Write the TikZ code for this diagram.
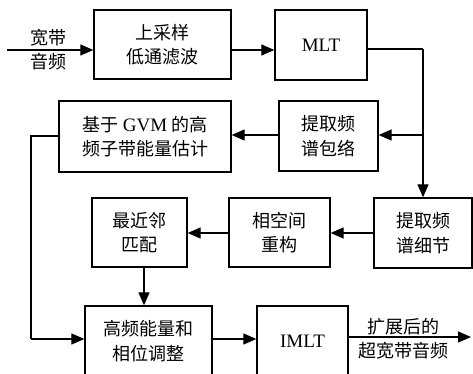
\documentclass[tikz,border=0pt]{standalone}
\usepackage{fontspec}
\setmainfont{Liberation Serif}
\newfontfamily\cjk{Noto Sans CJK SC}
\usetikzlibrary{arrows.meta}
\begin{document}
\begin{tikzpicture}[x=1pt,y=-1pt,
  box/.style={draw,line width=1.3pt,inner sep=0pt,align=center,font=\fontsize{18}{24.5}\selectfont\cjk},
  conn/.style={line width=1.2pt,-{Triangle[length=13pt,width=11pt]}},
  plain/.style={line width=1.2pt},
  lbl/.style={inner sep=0pt,font=\fontsize{18}{24}\selectfont\cjk}]
\useasboundingbox (0,0) rectangle (473,374);
\clip (0,0) rectangle (473,374);
% boxes
\node[box,minimum width=137pt,minimum height=69pt] (b1) at (162.5,44.5) {上采样\\低通滤波};
\node[box,minimum width=92pt,minimum height=70pt,font=\fontsize{19}{24}\selectfont] (mlt) at (321,45) {MLT};
\node[box,minimum width=99pt,minimum height=70pt] (env) at (328.5,136) {提取频\\谱包络};
\node[box,minimum width=172pt,minimum height=71pt] (gvm) at (145,136.5) {基于 {\rmfamily\fontsize{19}{24}\selectfont GVM} 的高\\频子带能量估计};
\node[box,minimum width=98pt,minimum height=70pt] (det) at (423,233) {提取频\\谱细节};
\node[box,minimum width=101pt,minimum height=69pt] (psr) at (279.5,232.5) {相空间\\重构};
\node[box,minimum width=95pt,minimum height=69pt] (nn) at (139.5,232.5) {最近邻\\匹配};
\node[box,minimum width=127pt,minimum height=70pt] (adj) at (148.5,341) {高频能量和\\相位调整};
\node[box,minimum width=91pt,minimum height=70pt,font=\fontsize{19}{24}\selectfont] (imlt) at (302.5,341) {IMLT};
% coordinates
\coordinate (in) at (7,50);
\coordinate (out) at (471,337);
\coordinate (c1) at (423,49);
\coordinate (c2) at (423,135);
\coordinate (c3) at (31,136);
\coordinate (c4) at (31,339);
% labels
\node[lbl] (l1) at (48,38) {宽带};
\node[lbl] (l2) at (48,62) {音频};
\node[lbl] (l3) at (403,327) {扩展后的};
\node[lbl] (l4) at (403,351) {超宽带音频};
% connectors
\draw[conn] (in) -- (b1.west |- in);
\draw[conn] (b1.east |- in) -- (mlt.west |- in);
\draw[plain] (mlt.east |- c1) -- (c1);
\draw[conn] (c1) -- (det.north);
\draw[conn] (c2) -- (env.east |- c2);
\draw[conn] (env.west |- c2) -- (gvm.east |- c2);
\draw[plain] (gvm.west |- c3) -- (c3) -- (c4);
\draw[conn] (c4) -- (adj.west |- c4);
\draw[conn] (det.west |- 0,233) -- (psr.east |- 0,233);
\draw[conn] (psr.west |- 0,233) -- (nn.east |- 0,233);
\draw[conn] (nn.south -| 144,0) -- (adj.north -| 144,0);
\draw[conn] (adj.east |- 0,339) -- (imlt.west |- 0,339);
\draw[conn] (imlt.east |- out) -- (out);
\end{tikzpicture}
\end{document}
